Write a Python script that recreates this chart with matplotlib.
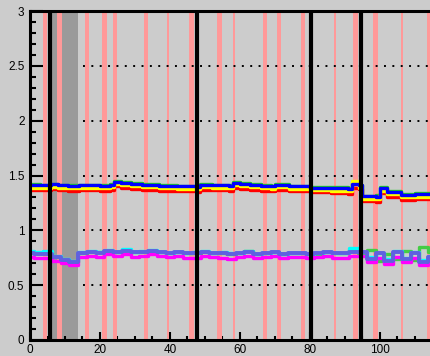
import numpy as np
import matplotlib.pyplot as plt
from matplotlib.ticker import MultipleLocator

# ---- data ----
# upper group (blue / yellow / red, plus a green hidden under blue)
x_up = [0, 3, 6, 8, 11, 14, 17, 20, 23, 24, 26, 29, 32, 37, 42, 47.5, 48.5, 52, 57, 58,
        60, 63, 66, 69, 70, 74, 80, 86, 91, 92, 94, 95, 99, 100, 102, 106, 110, 115]
blue_up = [1.413, 1.41, 1.42, 1.41, 1.405, 1.41, 1.41, 1.405, 1.415, 1.445, 1.435, 1.425, 1.415,
           1.405, 1.40, 1.395, 1.415, 1.41, 1.405, 1.435, 1.425, 1.415, 1.405, 1.40, 1.415, 1.40,
           1.39, 1.385, 1.38, 1.425, 1.41, 1.31, 1.305, 1.385, 1.35, 1.325, 1.33, 1.33]
green_up = [1.42, 1.417, 1.427, 1.417, 1.412, 1.417, 1.417, 1.412, 1.422, 1.452, 1.442, 1.432, 1.422,
            1.412, 1.407, 1.402, 1.422, 1.417, 1.412, 1.442, 1.432, 1.422, 1.412, 1.407, 1.422, 1.407,
            1.397, 1.392, 1.387, 1.432, 1.417, 1.317, 1.322, 1.392, 1.357, 1.332, 1.337, 1.337]
yellow_up = [1.39, 1.388, 1.398, 1.388, 1.383, 1.388, 1.388, 1.383, 1.393, 1.423, 1.413, 1.403, 1.393,
             1.383, 1.378, 1.373, 1.393, 1.388, 1.383, 1.413, 1.403, 1.393, 1.383, 1.378, 1.393, 1.378,
             1.368, 1.363, 1.358, 1.45, 1.39, 1.29, 1.283, 1.363, 1.328, 1.303, 1.308, 1.308]
red_up = [1.368, 1.365, 1.375, 1.365, 1.36, 1.365, 1.365, 1.36, 1.37, 1.40, 1.39, 1.38, 1.37,
          1.36, 1.355, 1.35, 1.37, 1.365, 1.36, 1.39, 1.38, 1.37, 1.36, 1.355, 1.37, 1.355,
          1.345, 1.34, 1.335, 1.39, 1.375, 1.27, 1.26, 1.34, 1.305, 1.28, 1.285, 1.285]

# lower group (green / cyan / magenta / purple)
x_lo = [0, 2.5, 5, 7.5, 10, 12.5, 15, 17.5, 20, 22.5, 25, 27.5, 30, 32.5, 35, 37.5, 40, 42.5,
        45, 47.5, 50, 52.5, 55, 57.5, 60, 62.5, 65, 67.5, 70, 72.5, 75, 77.5, 80, 82.5, 85, 87.5,
        90, 92.5, 95, 97.5, 100, 102.5, 105, 107.5, 110, 112.5, 115]
purple_lo = [0.79, 0.78, 0.78, 0.76, 0.73, 0.71, 0.79, 0.80, 0.79, 0.81, 0.80, 0.81, 0.80, 0.80,
             0.81, 0.80, 0.79, 0.80, 0.79, 0.79, 0.80, 0.79, 0.79, 0.78, 0.79, 0.80, 0.78, 0.79,
             0.80, 0.78, 0.79, 0.79, 0.78, 0.79, 0.80, 0.79, 0.79, 0.80, 0.80, 0.74, 0.79, 0.72,
             0.80, 0.74, 0.79, 0.71, 0.76]
cyan_lo = [0.81, 0.80, 0.81, 0.77, 0.74, 0.72, 0.80, 0.81, 0.80, 0.82, 0.80, 0.83, 0.80, 0.81,
           0.82, 0.80, 0.79, 0.80, 0.79, 0.80, 0.81, 0.79, 0.80, 0.79, 0.79, 0.81, 0.78, 0.79,
           0.80, 0.78, 0.79, 0.79, 0.78, 0.79, 0.80, 0.79, 0.79, 0.84, 0.80, 0.76, 0.79, 0.74,
           0.81, 0.75, 0.80, 0.73, 0.77]
green_lo = [0.80, 0.79, 0.79, 0.76, 0.73, 0.71, 0.79, 0.80, 0.80, 0.81, 0.80, 0.82, 0.80, 0.80,
            0.81, 0.80, 0.79, 0.80, 0.79, 0.79, 0.80, 0.79, 0.79, 0.78, 0.79, 0.81, 0.78, 0.79,
            0.80, 0.78, 0.79, 0.79, 0.78, 0.78, 0.80, 0.79, 0.79, 0.81, 0.79, 0.82, 0.72, 0.78,
            0.74, 0.81, 0.73, 0.85, 0.80]
magenta_lo = [0.76, 0.75, 0.75, 0.72, 0.70, 0.68, 0.76, 0.77, 0.76, 0.78, 0.77, 0.78, 0.76, 0.77,
              0.78, 0.77, 0.76, 0.77, 0.75, 0.75, 0.77, 0.76, 0.75, 0.74, 0.76, 0.77, 0.75, 0.76,
              0.77, 0.75, 0.76, 0.76, 0.75, 0.76, 0.77, 0.75, 0.75, 0.77, 0.77, 0.71, 0.75, 0.69,
              0.76, 0.71, 0.75, 0.68, 0.72]

# markers along the time axis
pink_thick = [4.3, 8.4, 16.3, 21.3, 24.3, 33.1, 46.1, 54.1, 67.1, 71.1, 78.0, 93.0, 98.7, 114.0]
pink_thin = [39.4, 58.3, 87.1, 106.3]
black_lines = [5.7, 47.7, 80.3, 94.6]
grey_span = (6.3, 13.8)
dotted_levels = [0.5, 1.0, 1.5, 2.0, 2.5]
dotted_start = 15.2

bg = '#cccccc'
fig = plt.figure(figsize=(4.31, 3.56), dpi=100, facecolor=bg)
ax = fig.add_axes([30 / 431, 16 / 356, 401 / 431, 329 / 356], facecolor=bg)

ax.axvspan(grey_span[0], grey_span[1], color='#9a9a9a', lw=0, zorder=1)
for xp in pink_thick:
    ax.axvspan(xp - 0.65, xp + 0.65, color='#ff9999', lw=0, zorder=2)
for xp in pink_thin:
    ax.axvspan(xp - 0.22, xp + 0.22, color='#ff9999', lw=0, zorder=2)

for lev in dotted_levels:
    ax.plot([dotted_start, 115], [lev, lev], color='black', lw=1.4,
            ls=(0, (1, 3.3)), zorder=3)

lw = 2.4
ax.plot(x_up, green_up, color='#22cc22', lw=lw, drawstyle='steps-post', zorder=4)
ax.plot(x_up, red_up, color='#ff0000', lw=lw, drawstyle='steps-post', zorder=4)
ax.plot(x_up, yellow_up, color='#ffff00', lw=lw, drawstyle='steps-post', zorder=4)
ax.plot(x_up, blue_up, color='#0000ff', lw=lw, drawstyle='steps-post', zorder=4)

ax.plot(x_lo, green_lo, color='#44cc44', lw=lw, drawstyle='steps-mid', zorder=4)
ax.plot(x_lo, cyan_lo, color='#00ffff', lw=lw, drawstyle='steps-mid', zorder=4)
ax.plot(x_lo, magenta_lo, color='#ff00ff', lw=lw, drawstyle='steps-mid', zorder=4)
ax.plot(x_lo, purple_lo, color='#6060e0', lw=2.8, drawstyle='steps-mid', zorder=4)

for xb in black_lines:
    ax.axvline(xb, color='black', lw=3, zorder=5)

ax.set_xlim(0, 401 / 3.5)
ax.set_ylim(0, 3)

for side in ['left', 'bottom', 'top']:
    ax.spines[side].set_linewidth(2.2)
    ax.spines[side].set_zorder(6)
ax.spines['right'].set_visible(False)

ax.xaxis.set_major_locator(MultipleLocator(20))
ax.xaxis.set_minor_locator(MultipleLocator(5))
ax.yaxis.set_major_locator(MultipleLocator(0.5))
ax.yaxis.set_minor_locator(MultipleLocator(0.1))
ax.tick_params(axis='y', which='major', direction='in', length=9, width=1.5, pad=4)
ax.tick_params(axis='y', which='minor', direction='in', length=4.5, width=1.5)
ax.tick_params(axis='x', which='major', direction='in', length=6, width=1.5, pad=3)
ax.tick_params(axis='x', which='minor', direction='in', length=3, width=1.5)
ax.tick_params(labelsize=8.5, top=False, right=False)
for lab in ax.get_xticklabels() + ax.get_yticklabels():
    lab.set_family('Liberation Sans')
ax.yaxis.set_major_formatter(plt.FuncFormatter(lambda v, p: f'{v:g}'))

fig.savefig('out.png', dpi=100, facecolor=bg)
